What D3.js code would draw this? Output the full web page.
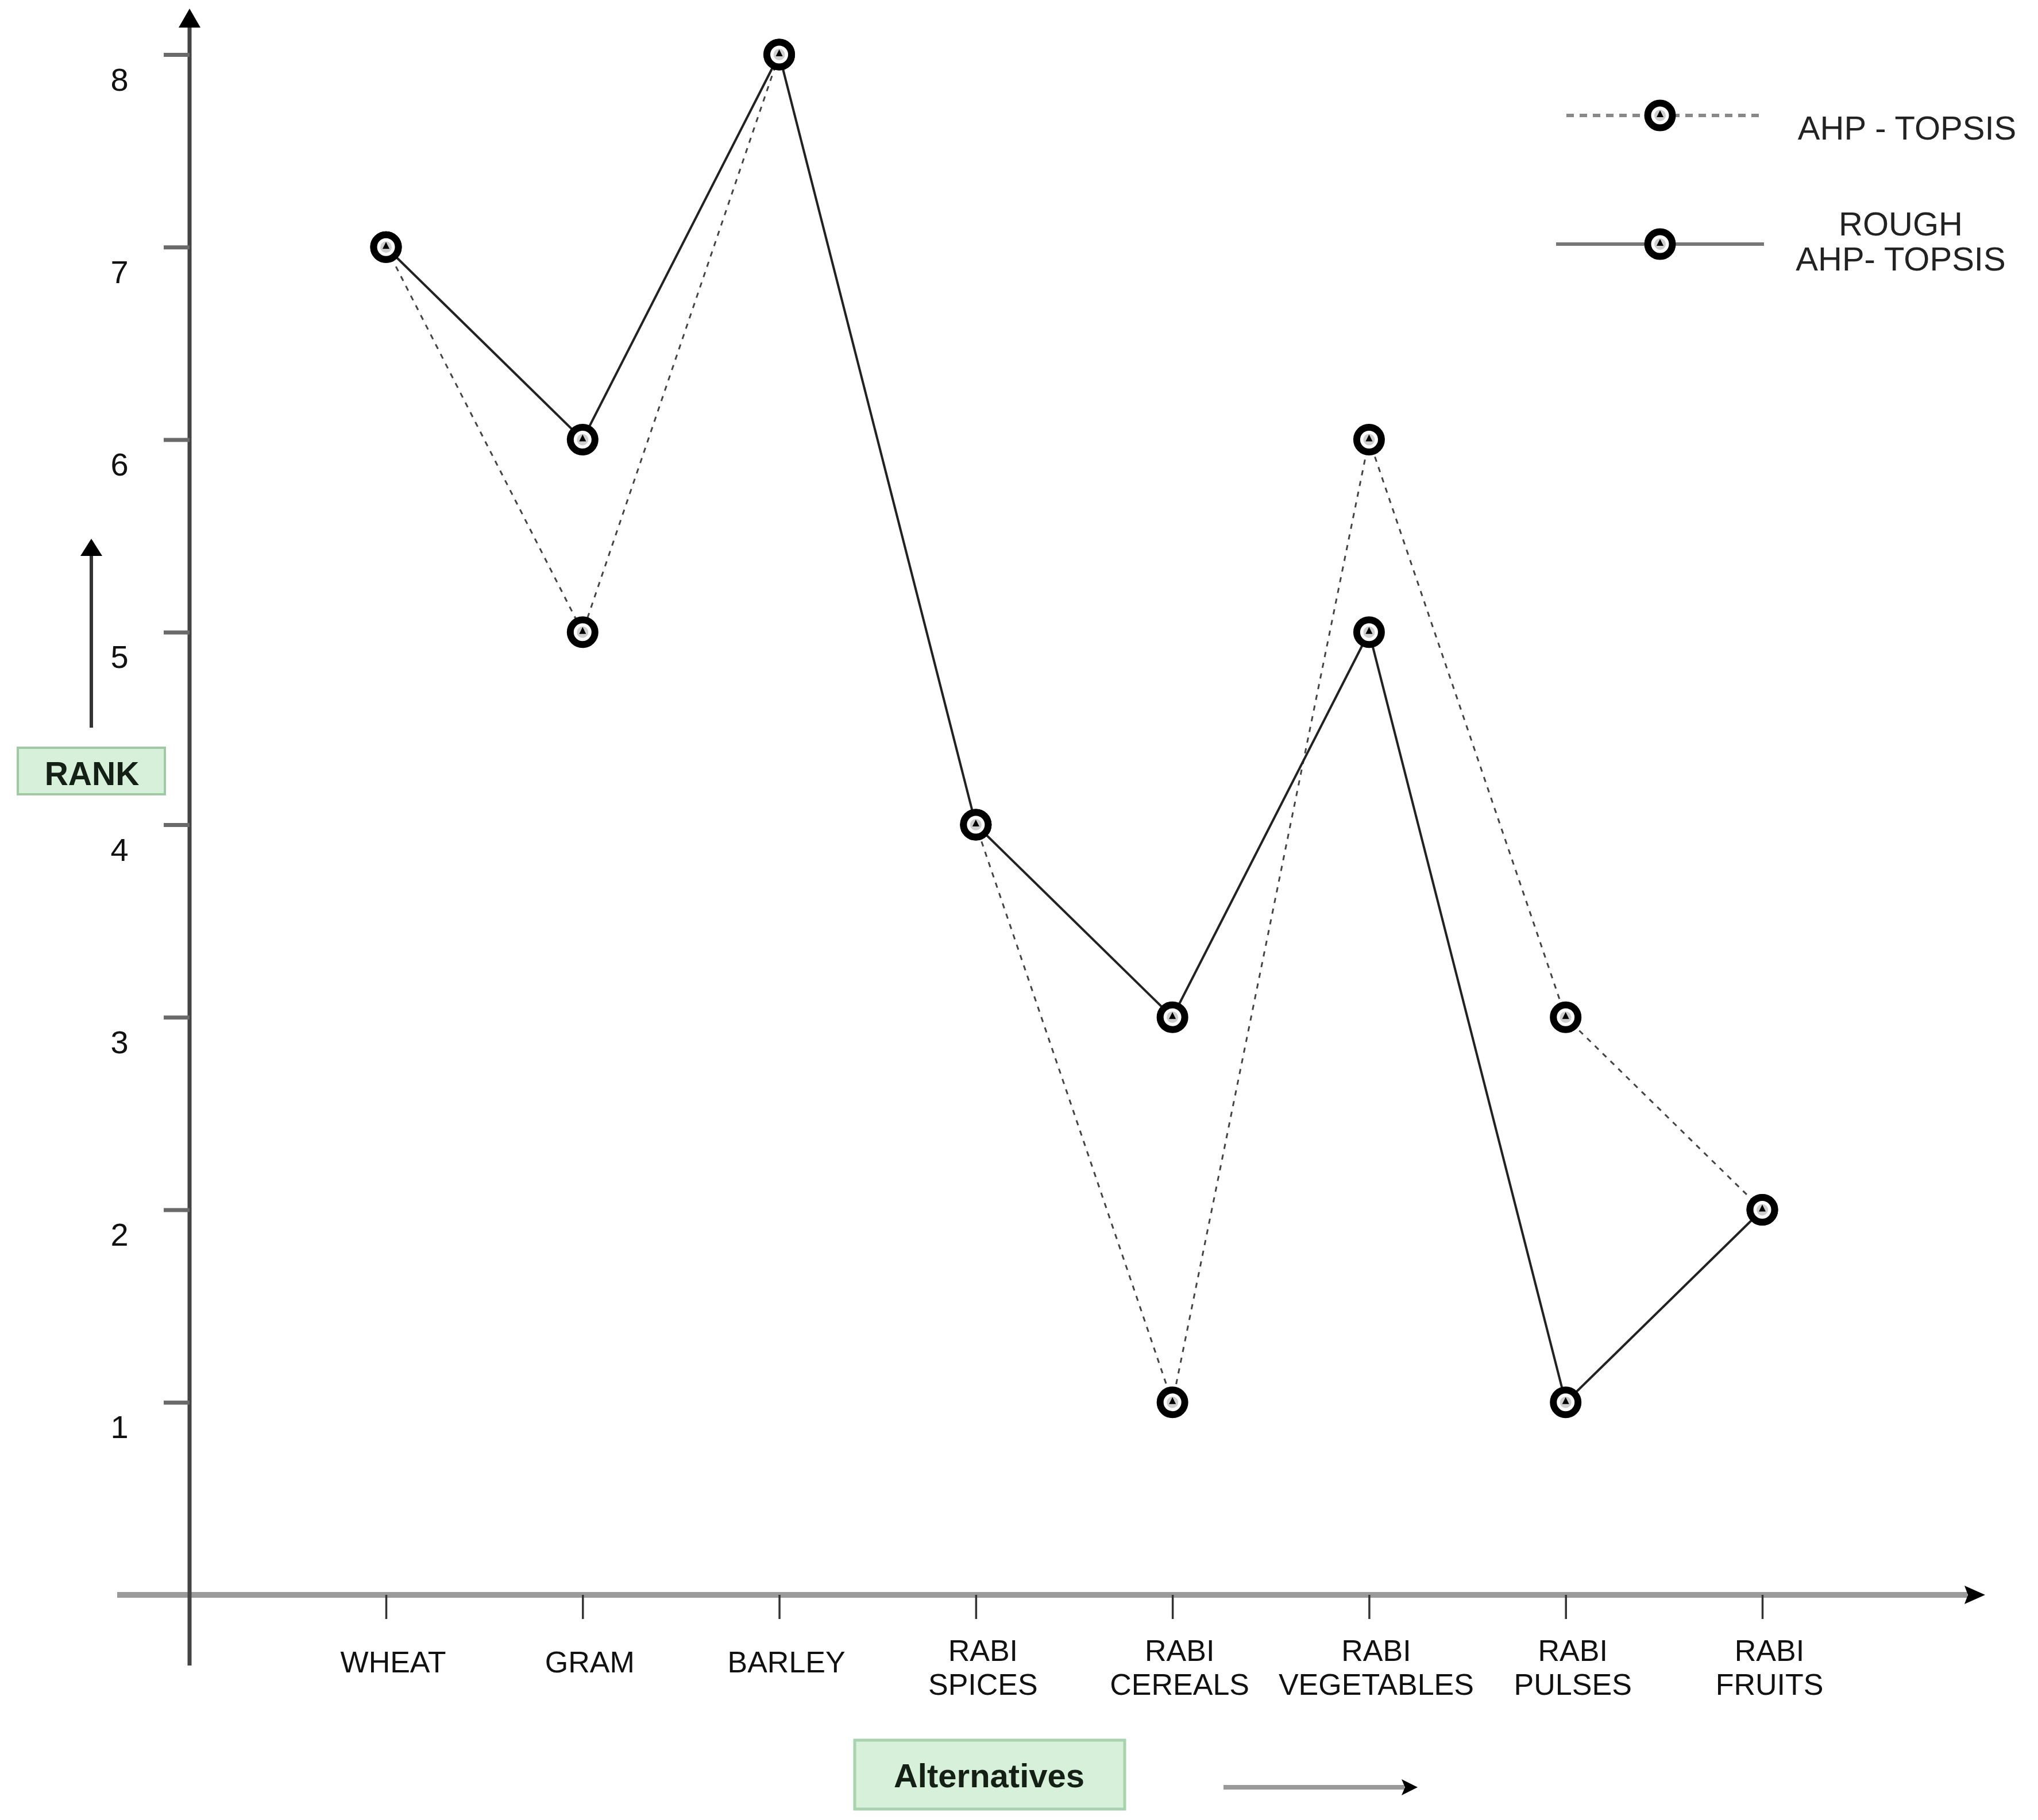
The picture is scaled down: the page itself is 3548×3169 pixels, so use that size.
<!DOCTYPE html>
<html>
<head>
<meta charset="utf-8">
<script src="https://cdn.jsdelivr.net/npm/d3@7/dist/d3.min.js"></script>
<style>
  html, body { margin: 0; padding: 0; background: #fff; }
  svg { display: block; }
  text { font-family: "Liberation Sans", Arial, Helvetica, sans-serif; }
</style>
</head>
<body>
<script>
// ---------------- DATA ----------------
const categories = ["WHEAT", "GRAM", "BARLEY", "RABI SPICES", "RABI CEREALS", "RABI VEGETABLES", "RABI PULSES", "RABI FRUITS"];
const categoryLines = [["WHEAT"], ["GRAM"], ["BARLEY"], ["RABI", "SPICES"], ["RABI", "CEREALS"], ["RABI", "VEGETABLES"], ["RABI", "PULSES"], ["RABI", "FRUITS"]];
const ahpTopsis = [7, 5, 8, 4, 1, 6, 3, 2];
const roughAhpTopsis = [7, 6, 8, 4, 3, 5, 1, 2];
const yTickValues = [1, 2, 3, 4, 5, 6, 7, 8];
const seriesNames = ["AHP - TOPSIS", ["ROUGH", "AHP- TOPSIS"]];
const yAxisTitle = "RANK";
const xAxisTitle = "Alternatives";

// ---------------- LAYOUT ----------------
const W = 3548, H = 3169;
const svg = d3.select("body").append("svg").attr("width", W).attr("height", H);
svg.append("rect").attr("width", W).attr("height", H).attr("fill", "#fff");

const x = d3.scalePoint().domain(categories).range([672, 3068]);
const y = d3.scaleLinear().domain([0, 8]).range([2777, 95]);

const axisX = 330;   // y-axis position
const axisY = y(0);  // x-axis position

// ---- X axis line + arrow ----
svg.append("line").attr("x1", 204).attr("x2", 3425).attr("y1", axisY).attr("y2", axisY)
  .attr("stroke", "#9a9a9a").attr("stroke-width", 10);
svg.append("path").attr("d", `M3456,${axisY} L3420,${axisY - 16} L3426,${axisY} L3420,${axisY + 16} Z`).attr("fill", "#000");

// ---- Y axis line + arrow ----
svg.append("line").attr("x1", axisX).attr("x2", axisX).attr("y1", 2900).attr("y2", 40)
  .attr("stroke", "#444").attr("stroke-width", 7);
svg.append("path").attr("d", `M${axisX},15 L${axisX - 19},48 L${axisX + 19},48 Z`).attr("fill", "#000");

// ---- Y axis ticks ----
const gy = svg.append("g").attr("transform", `translate(${axisX},0)`)
  .call(d3.axisLeft(y).tickValues(yTickValues).tickSize(45).tickFormat(d3.format("d")));
gy.select(".domain").remove();
gy.selectAll(".tick line").attr("stroke", "#6a6a6a").attr("stroke-width", 7);
gy.selectAll(".tick text")
  .attr("x", -122).attr("y", 62).attr("dy", 0)
  .attr("text-anchor", "middle")
  .attr("font-size", 56).attr("fill", "#111")
  .style("font-family", "'Liberation Sans', Arial, sans-serif");

// ---- X axis ticks ----
const gx = svg.append("g").attr("transform", `translate(0,${axisY})`)
  .call(d3.axisBottom(x).tickSize(42).tickFormat(""));
gx.select(".domain").remove();
gx.selectAll(".tick line").attr("stroke", "#333").attr("stroke-width", 3.5);
gx.selectAll(".tick text").each(function(d) {
  const lines = categoryLines[categories.indexOf(d)];
  const t = d3.select(this)
    .attr("text-anchor", "middle").attr("x", 12).attr("y", 0).attr("dy", 0)
    .attr("font-size", 52).attr("fill", "#111")
    .style("font-family", "'Liberation Sans', Arial, sans-serif");
  t.text(null);
  const baselines = lines.length === 1 ? [135] : [115, 174];
  lines.forEach((s, i) => t.append("tspan").attr("x", 12).attr("y", baselines[i]).text(s));
});

// ---- Series lines ----
const line = d3.line().x((d, i) => x(categories[i])).y(d => y(d));
svg.append("path").datum(ahpTopsis).attr("d", line)
  .attr("fill", "none").attr("stroke", "#444").attr("stroke-width", 3).attr("stroke-dasharray", "9,10");
svg.append("path").datum(roughAhpTopsis).attr("d", line)
  .attr("fill", "none").attr("stroke", "#222").attr("stroke-width", 4);

// ---- Markers ----
function marker(g) {
  g.append("circle").attr("r", 21.5).attr("fill", "#fff").attr("stroke", "#000").attr("stroke-width", 12);
  g.append("circle").attr("r", 10).attr("fill", "#cfcfcf");
  g.append("path").attr("d", "M0,-9 L-6,3 L6,3 Z").attr("fill", "#000");
}
[ahpTopsis, roughAhpTopsis].forEach(series => {
  svg.append("g").selectAll("g").data(series).join("g")
    .attr("transform", (d, i) => `translate(${x(categories[i])},${y(d)})`)
    .each(function() { marker(d3.select(this)); });
});

// ---- Legend ----
const leg = svg.append("g");
leg.append("line").attr("x1", 2727).attr("x2", 3066).attr("y1", 201).attr("y2", 201)
  .attr("stroke", "#888").attr("stroke-width", 6).attr("stroke-dasharray", "13,10");
marker(leg.append("g").attr("transform", "translate(2890,201)"));
leg.append("text").attr("x", 3320).attr("y", 243).attr("text-anchor", "middle")
  .attr("font-size", 58).attr("fill", "#222").text(seriesNames[0]);

leg.append("line").attr("x1", 2709).attr("x2", 3071).attr("y1", 425).attr("y2", 425)
  .attr("stroke", "#777").attr("stroke-width", 6);
marker(leg.append("g").attr("transform", "translate(2890,425)"));
leg.append("text").attr("x", 3309).attr("y", 410).attr("text-anchor", "middle")
  .attr("font-size", 58).attr("fill", "#222").text(seriesNames[1][0]);
leg.append("text").attr("x", 3309).attr("y", 471).attr("text-anchor", "middle")
  .attr("font-size", 58).attr("fill", "#222").text(seriesNames[1][1]);

// ---- Y title (RANK box + arrow) ----
svg.append("line").attr("x1", 159).attr("x2", 159).attr("y1", 1267).attr("y2", 960)
  .attr("stroke", "#333").attr("stroke-width", 6);
svg.append("path").attr("d", "M159,938 L140,968 L178,968 Z").attr("fill", "#000");
svg.append("rect").attr("x", 31).attr("y", 1302).attr("width", 256).attr("height", 81)
  .attr("fill", "#d6f0da").attr("stroke", "#9fcaa4").attr("stroke-width", 4);
svg.append("text").attr("x", 160).attr("y", 1367).attr("text-anchor", "middle")
  .attr("font-size", 57).attr("font-weight", "bold").attr("fill", "#142016").text(yAxisTitle);

// ---- X title (Alternatives box + arrow) ----
svg.append("rect").attr("x", 1488).attr("y", 3030).attr("width", 470).attr("height", 120)
  .attr("fill", "#d6f0da").attr("stroke", "#a9d2ae").attr("stroke-width", 5);
svg.append("text").attr("x", 1722).attr("y", 3112).attr("text-anchor", "middle")
  .attr("font-size", 58).attr("font-weight", "bold").attr("fill", "#142016").text(xAxisTitle);
svg.append("line").attr("x1", 2130).attr("x2", 2445).attr("y1", 3112).attr("y2", 3112)
  .attr("stroke", "#999").attr("stroke-width", 8);
svg.append("path").attr("d", "M2468,3112 L2440,3098 L2446,3112 L2440,3126 Z").attr("fill", "#000");
</script>
</body>
</html>
